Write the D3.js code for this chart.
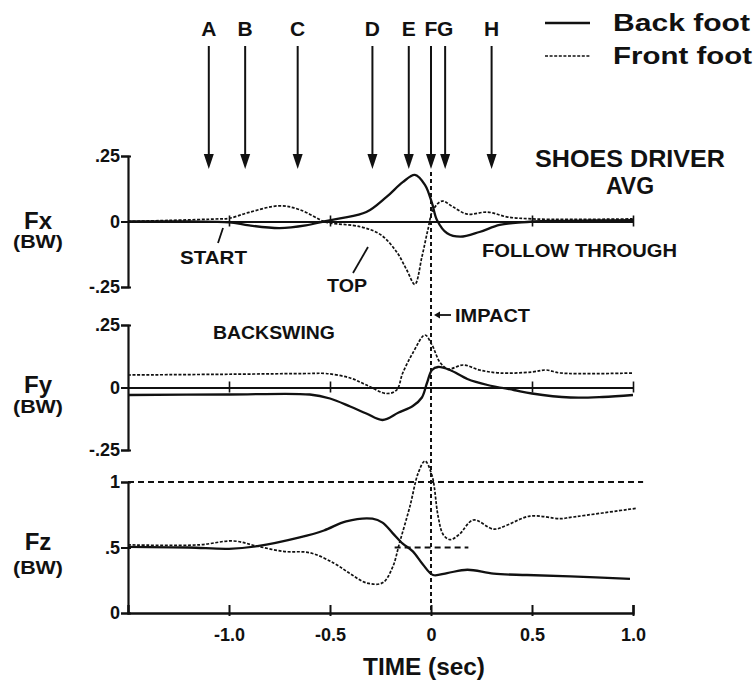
<!DOCTYPE html>
<html>
<head>
<meta charset="utf-8">
<script src="https://cdn.jsdelivr.net/npm/d3@7"></script>
<style>
  html, body { margin: 0; padding: 0; background: #fff; }
  svg text { font-family: "Liberation Sans", Arial, Helvetica, sans-serif; font-weight: bold; fill: #111; }
</style>
</head>
<body>
<svg id="chart" width="755" height="687"></svg>
<script>
// ---------------- data ----------------
const eventLabels = ["A", "B", "C", "D", "E", "F", "G", "H"];
const eventTimes  = [-1.10, -0.92, -0.66, -0.29, -0.11, 0.0, 0.07, 0.30];

const xTicks = [-1.0, -0.5, 0, 0.5, 1.0];
const xTickLabels = ["-1.0", "-0.5", "0", "0.5", "1.0"];

const fxTicks = [0.25, 0, -0.25];
const fxTickLabels = [".25", "0", "-.25"];
const fyTicks = [0.25, 0, -0.25];
const fyTickLabels = [".25", "0", "-.25"];
const fzTicks = [1, 0.5, 0];
const fzTickLabels = ["1", ".5", "0"];

// [time (s), force (BW)]
const fxBack = [[-1.5,0],[-1.2,0],[-1.0,-0.003],[-0.9,-0.015],[-0.75,-0.025],[-0.62,-0.015],[-0.53,0],[-0.45,0.012],[-0.32,0.036],[-0.22,0.094],[-0.14,0.15],[-0.08,0.178],[-0.03,0.14],[0.005,0.07],[0.03,0.005],[0.08,-0.045],[0.145,-0.058],[0.24,-0.04],[0.34,-0.013],[0.45,-0.003],[0.6,0.002],[0.8,0.004],[1.0,0.005]];
const fxFront = [[-1.5,0],[-1.3,0.004],[-1.05,0.01],[-1.0,0.012],[-0.9,0.035],[-0.75,0.06],[-0.65,0.045],[-0.53,0],[-0.5,-0.006],[-0.35,-0.02],[-0.25,-0.05],[-0.17,-0.116],[-0.12,-0.185],[-0.08,-0.24],[-0.045,-0.135],[-0.015,-0.03],[0.01,0.044],[0.055,0.078],[0.11,0.055],[0.18,0.028],[0.28,0.036],[0.38,0.017],[0.5,0.01],[0.7,0.008],[1.0,0.01]];
const fyBack = [[-1.5,-0.03],[-1.0,-0.028],[-0.6,-0.028],[-0.5,-0.044],[-0.4,-0.076],[-0.32,-0.104],[-0.24,-0.13],[-0.16,-0.10],[-0.09,-0.074],[-0.045,-0.04],[-0.02,0.018],[0.005,0.07],[0.035,0.082],[0.094,0.07],[0.18,0.034],[0.28,0.01],[0.41,-0.01],[0.5,-0.024],[0.69,-0.04],[0.85,-0.038],[1.0,-0.03]];
const fyFront = [[-1.5,0.05],[-1.0,0.053],[-0.6,0.056],[-0.52,0.056],[-0.4,0.038],[-0.32,0.01],[-0.22,-0.024],[-0.17,-0.01],[-0.14,0.058],[-0.09,0.138],[-0.03,0.21],[0.005,0.17],[0.045,0.10],[0.085,0.074],[0.16,0.09],[0.24,0.07],[0.34,0.058],[0.5,0.062],[0.57,0.07],[0.64,0.058],[1.0,0.058]];
const fzBack = [[-1.5,0.505],[-1.2,0.5],[-1.0,0.49],[-0.86,0.51],[-0.65,0.577],[-0.53,0.63],[-0.42,0.70],[-0.29,0.72],[-0.24,0.69],[-0.19,0.61],[-0.14,0.53],[-0.09,0.47],[-0.04,0.37],[0.01,0.29],[0.08,0.305],[0.18,0.33],[0.31,0.30],[0.475,0.29],[0.69,0.28],[0.985,0.26]];
const fzFront = [[-1.5,0.52],[-1.15,0.52],[-0.98,0.55],[-0.86,0.51],[-0.73,0.47],[-0.6,0.46],[-0.48,0.38],[-0.4,0.30],[-0.32,0.23],[-0.24,0.23],[-0.19,0.35],[-0.155,0.54],[-0.105,0.81],[-0.063,1.07],[-0.03,1.16],[0.005,1.05],[0.035,0.74],[0.06,0.6],[0.094,0.56],[0.14,0.6],[0.21,0.71],[0.31,0.64],[0.375,0.67],[0.49,0.74],[0.64,0.72],[0.69,0.73],[1.02,0.80]];

const fzRefLines = [1.0, 0.5];

// ---------------- scales ----------------
const svg = d3.select("#chart");
const ink = "#111";
const x = d3.scaleLinear().domain([-1.5, 1.0]).range([128, 633]);
const yFx = d3.scaleLinear().domain([-0.25, 0.25]).range([287, 156]);
const yFy = d3.scaleLinear().domain([-0.25, 0.25]).range([450, 325]);
const yFz = d3.scaleLinear().domain([0, 1]).range([613, 482]);

function drawY(scale, ticks, labels) {
  const ax = d3.axisLeft(scale).tickValues(ticks).tickSizeOuter(0).tickSize(7).tickPadding(2)
    .tickFormat((d, i) => labels[i]);
  const g = svg.append("g").attr("transform", `translate(${x.range()[0]},0)`).call(ax);
  g.select(".domain").attr("stroke", ink).attr("stroke-width", 2.2);
  g.selectAll(".tick line").attr("stroke", ink).attr("stroke-width", 2).attr("x2", 3).attr("x1", -7);
  g.selectAll(".tick text").style("font-size", "18px").attr("fill", ink).attr("x", -8);
}

function drawZero(scale) {
  const ax = d3.axisBottom(x).tickValues([-1.0, -0.5, 0.5, 1.0]).tickSizeOuter(0).tickFormat("");
  const g = svg.append("g").attr("transform", `translate(0,${scale(0)})`).call(ax);
  g.select(".domain").attr("stroke", ink).attr("stroke-width", 2);
  g.selectAll(".tick line").attr("stroke", ink).attr("stroke-width", 1.6).attr("y1", -6).attr("y2", 5);
}

drawY(yFx, fxTicks, fxTickLabels);
drawY(yFy, fyTicks, fyTickLabels);
drawY(yFz, fzTicks, fzTickLabels);
drawZero(yFx);
drawZero(yFy);

// bottom time axis
{
  const ax = d3.axisBottom(x).tickValues(xTicks).tickSizeOuter(0).tickSize(-8).tickPadding(12)
    .tickFormat((d, i) => xTickLabels[i]);
  const g = svg.append("g").attr("transform", `translate(0,${yFz(0)})`).call(ax);
  g.select(".domain").attr("stroke", ink).attr("stroke-width", 2.4);
  g.selectAll(".tick line").attr("stroke", ink).attr("stroke-width", 2).attr("y2", 3).attr("y1", -8);
  g.selectAll(".tick text").style("font-size", "18px").attr("fill", ink).attr("dy", "0.9em");
}

// Fz reference dashed lines
svg.append("line").attr("x1", x(-1.5)).attr("x2", x(1.05)).attr("y1", yFz(fzRefLines[0])).attr("y2", yFz(fzRefLines[0]))
  .attr("stroke", ink).attr("stroke-width", 2).attr("stroke-dasharray", "6,4");
svg.append("line").attr("x1", x(-0.18)).attr("x2", x(0.185)).attr("y1", yFz(fzRefLines[1])).attr("y2", yFz(fzRefLines[1]))
  .attr("stroke", ink).attr("stroke-width", 2).attr("stroke-dasharray", "6,4");

// impact vertical dotted line
svg.append("line").attr("x1", x(0)).attr("x2", x(0)).attr("y1", 172).attr("y2", yFz(0))
  .attr("stroke", ink).attr("stroke-width", 2).attr("stroke-dasharray", "4,3");

// curves
function curve(data, yScale, dashed) {
  const line = d3.line().x(d => x(d[0])).y(d => yScale(d[1])).curve(d3.curveCatmullRom.alpha(0.5));
  svg.append("path").attr("d", line(data)).attr("fill", "none").attr("stroke", ink)
    .attr("stroke-width", dashed ? 1.7 : 2.3)
    .attr("stroke-dasharray", dashed ? "3,1.6" : null)
    .attr("stroke-linejoin", "round");
}
curve(fxBack, yFx, false);
curve(fxFront, yFx, true);
curve(fyBack, yFy, false);
curve(fyFront, yFy, true);
curve(fzBack, yFz, false);
curve(fzFront, yFz, true);

// event arrows
eventTimes.forEach((t, i) => {
  const px = x(t);
  svg.append("line").attr("x1", px).attr("x2", px).attr("y1", 46).attr("y2", 158)
    .attr("stroke", ink).attr("stroke-width", 2);
  svg.append("path").attr("d", `M${px - 5},154 L${px + 5},154 L${px},169 Z`).attr("fill", ink);
  svg.append("text").attr("x", px).attr("y", 36).attr("text-anchor", "middle")
    .style("font-size", "21px").text(eventLabels[i]);
});

// legend
svg.append("line").attr("x1", 545).attr("x2", 590).attr("y1", 23).attr("y2", 23).attr("stroke", ink).attr("stroke-width", 2.3);
svg.append("line").attr("x1", 545).attr("x2", 590).attr("y1", 56).attr("y2", 56).attr("stroke", ink).attr("stroke-width", 1.7).attr("stroke-dasharray", "3,1.6");
svg.append("text").attr("x", 613).attr("y", 31).style("font-size", "24px").attr("textLength", 137).attr("lengthAdjust", "spacingAndGlyphs").text("Back foot");
svg.append("text").attr("x", 613).attr("y", 64).style("font-size", "24px").attr("textLength", 139).attr("lengthAdjust", "spacingAndGlyphs").text("Front foot");

// annotations
function label(txt, px, py, size, len, anchor) {
  const t = svg.append("text").attr("x", px).attr("y", py).style("font-size", size + "px").text(txt);
  if (anchor) t.attr("text-anchor", anchor);
  if (len) t.attr("textLength", len).attr("lengthAdjust", "spacingAndGlyphs");
  return t;
}
label("SHOES DRIVER", 630, 167, 23, 190, "middle");
label("AVG", 630, 194, 23, null, "middle");
label("FOLLOW  THROUGH", 482, 257, 19, 195);
label("START", 180, 264, 19, 67);
label("TOP", 327, 292, 19, 40);
label("BACKSWING", 213, 339, 19, 122);
label("IMPACT", 455, 322, 19, 75);
label("TIME (sec)", 424, 675, 24, 122, "middle");

// leader lines
svg.append("line").attr("x1", 223).attr("y1", 228).attr("x2", 218).attr("y2", 243).attr("stroke", ink).attr("stroke-width", 1.8);
svg.append("line").attr("x1", 368).attr("y1", 247).attr("x2", 353).attr("y2", 273).attr("stroke", ink).attr("stroke-width", 1.8);
svg.append("line").attr("x1", 437).attr("y1", 315).attr("x2", 451).attr("y2", 315).attr("stroke", ink).attr("stroke-width", 1.8);
svg.append("path").attr("d", "M434,315 L440,311.5 L440,318.5 Z").attr("fill", ink);

// y titles
[["Fx", 229, 248], ["Fy", 393, 413], ["Fz", 550, 574]].forEach(([t, y1, y2]) => {
  label(t, 38, y1, 24, null, "middle");
  label("(BW)", 38, y2, 18, 50, "middle");
});
</script>
</body>
</html>
